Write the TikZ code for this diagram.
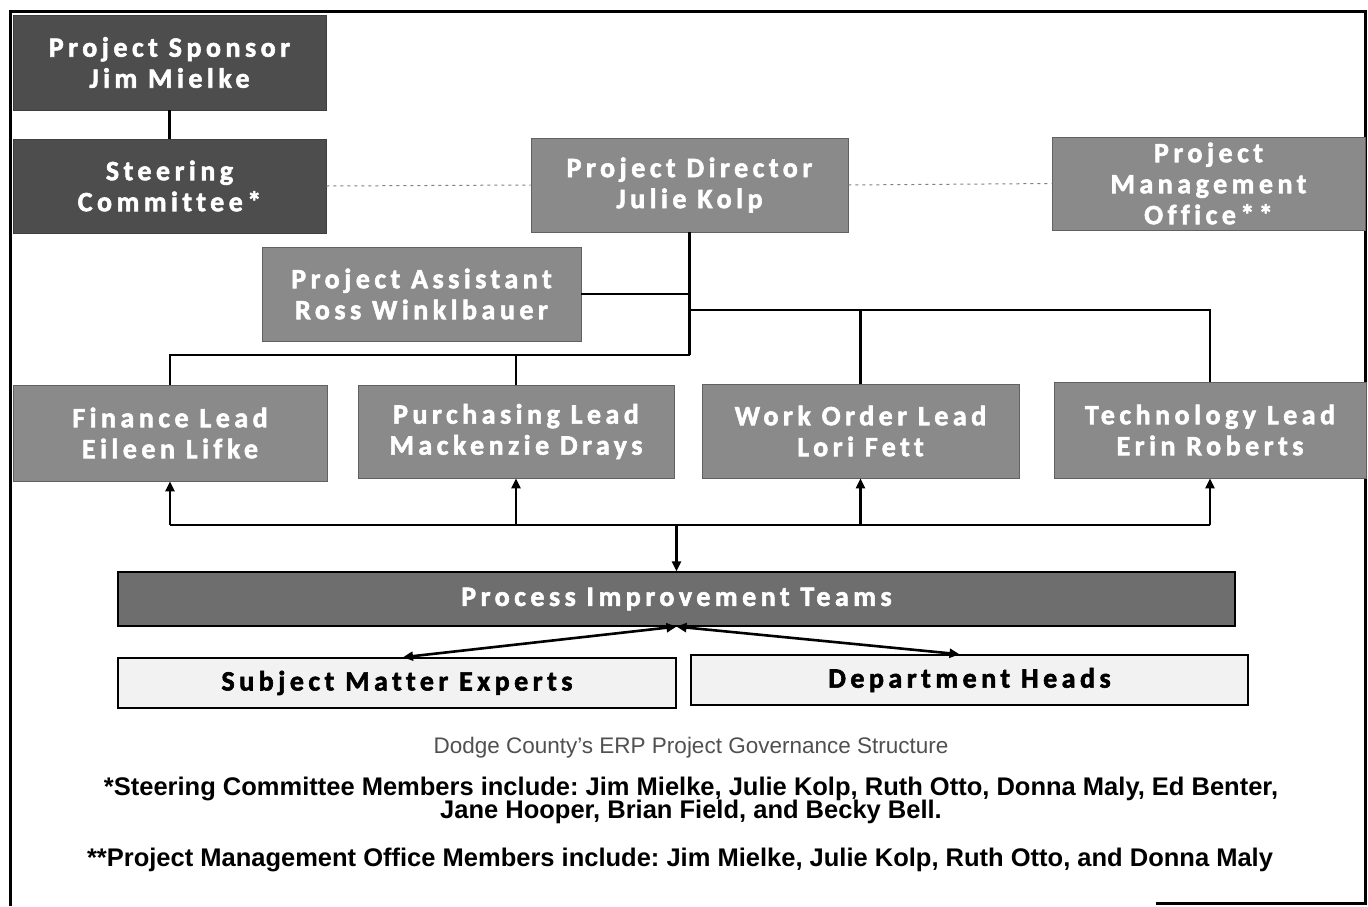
\documentclass[tikz,border=0pt]{standalone}
\usepackage{fontspec}
\setmainfont{Liberation Sans}
\newfontfamily\boxfont{Carlito}[LetterSpace=16, Ligatures=NoCommon, BoldFeatures={FakeBold=2}]
\usetikzlibrary{arrows.meta,calc}
\newcommand\mytightlines{\lineskiplimit=-30pt\relax}
\definecolor{darkbox}{HTML}{4D4D4D}
\definecolor{midbox}{HTML}{8A8A8A}
\definecolor{pitbox}{HTML}{6E6E6E}
\definecolor{lightbox}{HTML}{F2F2F2}
\definecolor{captiongray}{HTML}{505050}
\tikzset{
  box/.style={rectangle, inner sep=0pt, align=center, text=white,
    font=\boxfont\bfseries\fontsize{28}{31}\selectfont},
  darkfill/.style={box, fill=darkbox, draw=darkbox!80!black, line width=0.8pt},
  midfill/.style={box, fill=midbox, draw=midbox!70!black, line width=0.8pt},
  pitfill/.style={box, fill=pitbox, draw=black, line width=1.2pt},
  lightfill/.style={box, fill=lightbox, draw=black, line width=1.5pt, text=black},
  conn/.style={draw=black, line width=2.6pt},
  arr/.style={conn, -{Triangle[length=10pt,width=9pt]}},
  arrtwo/.style={conn, {Triangle[length=10pt,width=9pt]}-{Triangle[length=10pt,width=9pt]}},
  dotline/.style={draw=gray, line width=1pt, dash pattern=on 3pt off 4pt},
  frameline/.style={draw=black, line width=3pt},
  notetext/.style={font=\frenchspacing\bfseries\fontsize{25.5}{23}\selectfont\mytightlines},
}
\begin{document}
\begin{tikzpicture}[x=1pt,y=-1pt]
\useasboundingbox (0,0) rectangle (1368,906);
\fill[white] (0,0) rectangle (1368,906);
% frame
\draw[frameline] (10,906) -- (10,11) -- (1365,11) -- (1365,903) -- (1156,903);

% boxes
\node[darkfill, minimum width=313pt, minimum height=95pt] (sponsor) at (169.5,62.5) {Project Sponsor\\Jim Mielke};
\node[darkfill, minimum width=313pt, minimum height=94pt] (steering) at (169.5,186) {Steering\\Committee*};
\node[midfill, minimum width=317pt, minimum height=94pt] (director) at (689.5,185) {Project Director\\Julie Kolp};
\node[midfill, minimum width=313pt, minimum height=93pt] (pmo) at (1208.5,183.5) {Project\\Management\\Office**};
\node[midfill, minimum width=319pt, minimum height=94pt] (assistant) at (421.5,294) {Project Assistant\\Ross Winklbauer};
\node[midfill, minimum width=314pt, minimum height=96pt] (finance) at (170,433) {Finance Lead\\Eileen Lifke};
\node[midfill, minimum width=316pt, minimum height=93pt] (purchasing) at (516,431.5) {Purchasing Lead\\Mackenzie Drays};
\node[midfill, minimum width=317pt, minimum height=94pt] (workorder) at (860.5,431) {Work Order Lead\\Lori Fett};
\node[midfill, minimum width=312pt, minimum height=96pt] (tech) at (1210,430) {Technology Lead\\Erin Roberts};
\node[pitfill, minimum width=1117pt, minimum height=54pt] (pit) at (676.5,599) {Process Improvement Teams};
\node[lightfill, minimum width=558pt, minimum height=50pt] (sme) at (397,683) {Subject Matter Experts};
\node[lightfill, minimum width=557pt, minimum height=50pt] (dh) at (969.5,680) {Department Heads};

% connectors
\draw[conn] (sponsor.south) -- (steering.north);
\draw[dotline] (steering.east) -- (director.west);
\draw[dotline] (director.east) -- (pmo.west);

\coordinate (jA) at (689.5,294);
\coordinate (jB) at (689.5,310);
\coordinate (jC) at (689.5,355);
\draw[conn] (director.south) -- (jC);
\draw[conn] (assistant.east) -- (jA);
\draw[conn] (jB) -| (tech.north);
\draw[conn] (jB -| workorder.north) -- (workorder.north);
\draw[conn] (jC) -| (finance.north);
\draw[conn] (jC -| purchasing.north) -- (purchasing.north);

\coordinate (bus) at (676.5,525);
\draw[conn] (bus -| finance.south) -- (bus -| tech.south);
\draw[arr] (bus -| finance.south) -- (finance.south);
\draw[arr] (bus -| purchasing.south) -- (purchasing.south);
\draw[arr] (bus -| workorder.south) -- (workorder.south);
\draw[arr] (bus -| tech.south) -- (tech.south);
\draw[arr] (bus) -- (pit.north);
\draw[arrtwo] (pit.south) -- ([xshift=6pt]sme.north);
\draw[arrtwo] (pit.south) -- ([xshift=-10pt]dh.north);

% captions
\node[text=captiongray, font=\fontsize{22.5}{24}\selectfont] (caption) at (691,748) {Dodge County's ERP Project Governance Structure};
\node[align=center, notetext] (note1) at (691,800) {*Steering Committee Members include: Jim Mielke, Julie Kolp, Ruth Otto, Donna Maly, Ed Benter,\\Jane Hooper, Brian Field, and Becky Bell.};
\node[notetext] (note2) at (680,860) {**Project Management Office Members include: Jim Mielke, Julie Kolp, Ruth Otto, and Donna Maly};
\end{tikzpicture}
\end{document}
